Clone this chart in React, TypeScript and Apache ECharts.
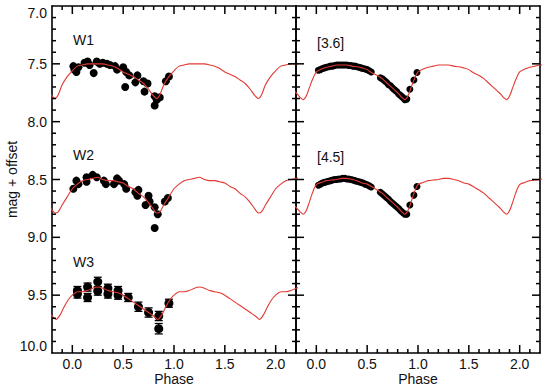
import React, { useEffect, useRef } from "react";
import * as echarts from "echarts";

// ---- ticks ----
const xMajorTicks = [0, 0.5, 1, 1.5, 2];
const xMinorTicks = [-0.1, 0.1, 0.2, 0.3, 0.4, 0.6, 0.7, 0.8, 0.9, 1.1, 1.2, 1.3, 1.4, 1.6, 1.7, 1.8, 1.9, 2.1];
const yMajorTicks = [7.5, 8.0, 8.5, 9.0, 9.5];
const yMinorTicks = [
  7.1, 7.2, 7.3, 7.4, 7.6, 7.7, 7.8, 7.9, 8.1, 8.2, 8.3, 8.4, 8.6, 8.7, 8.8, 8.9,
  9.1, 9.2, 9.3, 9.4, 9.6, 9.7, 9.8, 9.9,
];
const phaseCycles = [-1, 0, 1, 2];

// ---- model light curves, one period (phase, mag) ----
const w1Model: [number, number][] = [
  [0.0, 7.56], [0.05, 7.52], [0.1, 7.51], [0.15, 7.5], [0.2, 7.5], [0.25, 7.5], [0.3, 7.5],
  [0.35, 7.51], [0.4, 7.52], [0.45, 7.54], [0.5, 7.57], [0.55, 7.59], [0.6, 7.61], [0.65, 7.64],
  [0.7, 7.67], [0.75, 7.72], [0.8, 7.78], [0.83, 7.8], [0.86, 7.77], [0.9, 7.68], [0.95, 7.61],
];
const w2Model: [number, number][] = [
  [0.0, 8.58], [0.05, 8.54], [0.1, 8.51], [0.15, 8.5], [0.2, 8.49], [0.25, 8.48], [0.3, 8.5],
  [0.35, 8.51], [0.4, 8.51], [0.45, 8.52], [0.5, 8.53], [0.55, 8.56], [0.6, 8.58], [0.65, 8.62],
  [0.7, 8.65], [0.75, 8.7], [0.8, 8.76], [0.83, 8.79], [0.86, 8.78], [0.9, 8.72], [0.95, 8.65],
];
const w3Model: [number, number][] = [
  [0.0, 9.5], [0.05, 9.47], [0.1, 9.47], [0.15, 9.46], [0.2, 9.44], [0.25, 9.43], [0.3, 9.44],
  [0.35, 9.46], [0.4, 9.47], [0.45, 9.48], [0.5, 9.5], [0.55, 9.53], [0.6, 9.56], [0.65, 9.59],
  [0.7, 9.62], [0.75, 9.65], [0.8, 9.68], [0.84, 9.71], [0.88, 9.67], [0.92, 9.6], [0.96, 9.54],
];
const i1Model: [number, number][] = [
  [0.0, 7.57], [0.05, 7.545], [0.1, 7.53], [0.15, 7.52], [0.2, 7.51], [0.25, 7.51], [0.3, 7.51],
  [0.35, 7.52], [0.4, 7.525], [0.45, 7.535], [0.5, 7.55], [0.55, 7.58], [0.6, 7.6], [0.65, 7.63],
  [0.7, 7.67], [0.75, 7.71], [0.8, 7.75], [0.84, 7.79], [0.87, 7.81], [0.9, 7.78], [0.93, 7.71],
  [0.96, 7.64],
];
const i2Model: [number, number][] = [
  [0.0, 8.545], [0.05, 8.525], [0.1, 8.51], [0.15, 8.505], [0.2, 8.5], [0.25, 8.49], [0.3, 8.49],
  [0.35, 8.5], [0.4, 8.51], [0.45, 8.53], [0.5, 8.54], [0.55, 8.565], [0.6, 8.59], [0.65, 8.62],
  [0.7, 8.66], [0.75, 8.7], [0.8, 8.74], [0.84, 8.78], [0.87, 8.8], [0.9, 8.77], [0.93, 8.7],
  [0.96, 8.62],
];

// ---- observations ----
const w1Obs: [number, number][] = [
  [0.01, 7.52], [0.02, 7.55], [0.04, 7.57], [0.06, 7.53], [0.12, 7.49], [0.15, 7.48], [0.17, 7.51],
  [0.21, 7.58], [0.24, 7.48], [0.27, 7.5], [0.3, 7.49], [0.34, 7.5], [0.37, 7.51], [0.42, 7.52],
  [0.44, 7.55], [0.5, 7.53], [0.53, 7.57], [0.52, 7.7], [0.56, 7.6], [0.62, 7.66], [0.64, 7.6],
  [0.7, 7.65], [0.74, 7.67], [0.71, 7.74], [0.81, 7.78], [0.83, 7.81], [0.81, 7.86], [0.86, 7.79],
  [0.92, 7.65], [0.95, 7.61],
];
const w2Obs: [number, number][] = [
  [0.01, 8.58], [0.04, 8.51], [0.06, 8.54], [0.14, 8.48], [0.14, 8.52], [0.2, 8.46], [0.24, 8.48],
  [0.31, 8.51], [0.33, 8.54], [0.41, 8.54], [0.44, 8.49], [0.46, 8.51], [0.51, 8.54], [0.53, 8.58],
  [0.62, 8.61], [0.65, 8.59], [0.64, 8.64], [0.75, 8.64], [0.72, 8.72], [0.76, 8.69], [0.81, 8.74],
  [0.84, 8.8], [0.81, 8.92], [0.91, 8.69], [0.94, 8.66],
];
// phase, mag, error
const w3Obs: [number, number, number][] = [
  [0.05, 9.46, 0.035], [0.05, 9.49, 0.035], [0.15, 9.43, 0.035], [0.15, 9.52, 0.035],
  [0.25, 9.385, 0.04], [0.25, 9.465, 0.035], [0.35, 9.44, 0.035], [0.35, 9.49, 0.035],
  [0.45, 9.46, 0.035], [0.45, 9.5, 0.035], [0.55, 9.52, 0.035], [0.65, 9.6, 0.04],
  [0.75, 9.65, 0.04], [0.85, 9.68, 0.04], [0.85, 9.79, 0.045], [0.95, 9.57, 0.035],
];
const i1Obs: [number, number][] = [
  [0.02, 7.555], [0.04, 7.55], [0.06, 7.54], [0.08, 7.535], [0.1, 7.53], [0.12, 7.525], [0.14, 7.52],
  [0.16, 7.52], [0.18, 7.515], [0.2, 7.51], [0.22, 7.51], [0.24, 7.51], [0.26, 7.51], [0.28, 7.51],
  [0.3, 7.51], [0.32, 7.515], [0.34, 7.515], [0.36, 7.52], [0.38, 7.52], [0.4, 7.525], [0.42, 7.53],
  [0.44, 7.535], [0.46, 7.54], [0.48, 7.545], [0.5, 7.55], [0.52, 7.56], [0.54, 7.57],
  [0.63, 7.62], [0.65, 7.63], [0.67, 7.645], [0.69, 7.66], [0.71, 7.68], [0.73, 7.69], [0.75, 7.71],
  [0.77, 7.725], [0.79, 7.74], [0.81, 7.76], [0.83, 7.775], [0.85, 7.79], [0.87, 7.81], [0.89, 7.805],
  [0.92, 7.72], [0.96, 7.64], [0.99, 7.575],
];
const i2Obs: [number, number][] = [
  [0.02, 8.55], [0.04, 8.54], [0.06, 8.53], [0.08, 8.525], [0.1, 8.52], [0.12, 8.515], [0.14, 8.51],
  [0.16, 8.505], [0.18, 8.5], [0.2, 8.5], [0.22, 8.495], [0.24, 8.495], [0.26, 8.49], [0.28, 8.49],
  [0.3, 8.495], [0.32, 8.495], [0.34, 8.5], [0.36, 8.505], [0.38, 8.51], [0.4, 8.515], [0.42, 8.52],
  [0.44, 8.525], [0.46, 8.53], [0.48, 8.54], [0.5, 8.545], [0.52, 8.555], [0.54, 8.565],
  [0.63, 8.61], [0.65, 8.625], [0.67, 8.64], [0.69, 8.655], [0.71, 8.67], [0.73, 8.69], [0.75, 8.705],
  [0.77, 8.72], [0.79, 8.735], [0.81, 8.75], [0.83, 8.77], [0.85, 8.785], [0.87, 8.8], [0.89, 8.8],
  [0.92, 8.72], [0.96, 8.635], [0.99, 8.56],
];

const bandLabelsLeft = ["W1", "W2", "W3"];
const bandLabelsRight = ["[3.6]", "[4.5]"];

// ---- helpers ----
const X_MIN = -0.2;
const X_MAX = 2.2;
const Y_MIN = 7;
const Y_MAX = 10;

function foldCurve(model: [number, number][]): [number, number][] {
  const out: [number, number][] = [];
  for (const c of phaseCycles) {
    for (const [p, m] of model) {
      const x = +(p + c).toFixed(3);
      if (x >= -0.3 && x <= 2.3) out.push([x, m]);
    }
  }
  return out;
}

const FONT = "Liberation Sans, Arial, Helvetica, sans-serif";
const RED = "#e23a32";
const AXIS_W = 1.6;
const G = [
  { left: 52, top: 6, width: 244, height: 347 },
  { left: 296, top: 6, width: 244, height: 347 },
];
const MAJOR_LEN = 8;
const MINOR_LEN = 4;

// x ticks: [phase, magAtBottom, length]; y ticks: [phaseAtLeft, mag, length]
const xTickData: number[][] = [
  ...xMajorTicks.map((v) => [v, Y_MAX, MAJOR_LEN]),
  ...xMinorTicks.map((v) => [v, Y_MAX, MINOR_LEN]),
];
const yTickData: number[][] = [
  ...yMajorTicks.map((v) => [X_MIN, v, MAJOR_LEN]),
  ...yMinorTicks.map((v) => [X_MIN, v, MINOR_LEN]),
];

function xAxesFor(grid: number) {
  const base = {
    gridIndex: grid,
    type: "value",
    min: X_MIN,
    max: X_MAX,
    splitLine: { show: false },
    axisTick: { show: false },
  };
  return [
    {
      ...base,
      position: "bottom",
      axisLine: { show: true, onZero: false, lineStyle: { color: "#000", width: AXIS_W } },
      axisLabel: {
        show: true,
        customValues: xMajorTicks,
        formatter: (v: number) => v.toFixed(1),
        color: "#111",
        fontSize: 14,
        fontFamily: FONT,
        margin: 4,
      },
      name: "Phase",
      nameLocation: "middle",
      nameGap: 19,
      nameMoveOverlap: false,
      nameTextStyle: { color: "#111", fontSize: 14, fontFamily: FONT },
    },
    {
      ...base,
      position: "top",
      axisLine: { show: true, onZero: false, lineStyle: { color: "#000", width: AXIS_W } },
      axisLabel: { show: false },
    },
  ];
}

function yAxisFor(grid: number, position: string, labels: boolean) {
  return {
    gridIndex: grid,
    type: "value",
    position,
    min: Y_MIN,
    max: Y_MAX,
    interval: 0.5,
    inverse: true,
    splitLine: { show: false },
    axisLine: { show: true, onZero: false, lineStyle: { color: "#000", width: AXIS_W } },
    axisTick: { show: false },
    axisLabel: {
      show: labels,
      formatter: (v: number) => v.toFixed(1),
      color: "#111",
      fontSize: 14,
      fontFamily: FONT,
      margin: 5,
      verticalAlignMinLabel: "top",
      verticalAlignMaxLabel: "bottom",
    },
    name: labels ? "mag + offset" : "",
    nameLocation: "middle",
    nameGap: 33,
    nameRotate: 90,
    nameMoveOverlap: false,
    nameTextStyle: { color: "#111", fontSize: 14, fontFamily: FONT },
  };
}

const tickStyle = { stroke: "#000", lineWidth: 1.5 };

function xTickSeries(xi: number, yi: number) {
  return {
    type: "custom",
    xAxisIndex: xi,
    yAxisIndex: yi,
    data: xTickData,
    encode: { x: 0, y: 1 },
    z: 10,
    silent: true,
    renderItem: (params: any, api: any) => {
      const v = api.value(0);
      const len = api.value(2);
      const bot = api.coord([v, Y_MAX]);
      const top = api.coord([v, Y_MIN]);
      return {
        type: "group",
        children: [
          { type: "line", shape: { x1: bot[0], y1: bot[1], x2: bot[0], y2: bot[1] - len }, style: tickStyle },
          { type: "line", shape: { x1: top[0], y1: top[1], x2: top[0], y2: top[1] + len }, style: tickStyle },
        ],
      };
    },
  };
}

function yTickSeries(xi: number, yi: number) {
  return {
    type: "custom",
    xAxisIndex: xi,
    yAxisIndex: yi,
    data: yTickData,
    encode: { x: 0, y: 1 },
    z: 10,
    silent: true,
    renderItem: (params: any, api: any) => {
      const v = api.value(1);
      const len = api.value(2);
      const l = api.coord([X_MIN, v]);
      const r = api.coord([X_MAX, v]);
      return {
        type: "group",
        children: [
          { type: "line", shape: { x1: l[0], y1: l[1], x2: l[0] + len, y2: l[1] }, style: tickStyle },
          { type: "line", shape: { x1: r[0], y1: r[1], x2: r[0] - len, y2: r[1] }, style: tickStyle },
        ],
      };
    },
  };
}

function modelSeries(model: [number, number][], xi: number, yi: number) {
  return {
    type: "line",
    xAxisIndex: xi,
    yAxisIndex: yi,
    data: foldCurve(model),
    showSymbol: false,
    smooth: 0.3,
    clip: true,
    lineStyle: { color: RED, width: 1.1 },
    z: 5,
    silent: true,
  };
}

function dotSeries(obs: [number, number][], xi: number, yi: number, size: number) {
  return {
    type: "scatter",
    xAxisIndex: xi,
    yAxisIndex: yi,
    data: obs,
    symbol: "circle",
    symbolSize: size,
    itemStyle: { color: "#000", opacity: 1 },
    z: 3,
    silent: true,
  };
}

export default function App() {
  const ref = useRef<HTMLDivElement>(null);
  useEffect(() => {
    if (!ref.current) return;
    const chart = echarts.init(ref.current, undefined, { renderer: "svg" });
    const labelStyle = { fill: "#111", fontSize: 14, fontFamily: FONT, verticalAlign: "middle" };
    const option: any = {
      animation: false,
      backgroundColor: "#fff",
      grid: G.map((g) => ({ ...g, containLabel: false, outerBoundsMode: "none" })),
      xAxis: [...xAxesFor(0), ...xAxesFor(1)],
      yAxis: [
        yAxisFor(0, "left", true),
        yAxisFor(0, "right", false),
        yAxisFor(1, "left", false),
        yAxisFor(1, "right", false),
      ],
      series: [
        xTickSeries(0, 0),
        yTickSeries(0, 0),
        xTickSeries(2, 2),
        yTickSeries(2, 2),
        dotSeries(w1Obs, 0, 0, 8),
        dotSeries(w2Obs, 0, 0, 8),
        {
          type: "custom",
          xAxisIndex: 0,
          yAxisIndex: 0,
          data: w3Obs,
          encode: { x: 0, y: 1 },
          z: 3,
          silent: true,
          renderItem: (params: any, api: any) => {
            const x = api.value(0);
            const y = api.value(1);
            const e = api.value(2);
            const top = api.coord([x, y - e]);
            const bot = api.coord([x, y + e]);
            const cw = 4;
            const st = { stroke: "#000", lineWidth: 1.3 };
            return {
              type: "group",
              children: [
                { type: "line", shape: { x1: top[0], y1: top[1], x2: bot[0], y2: bot[1] }, style: st },
                { type: "line", shape: { x1: top[0] - cw, y1: top[1], x2: top[0] + cw, y2: top[1] }, style: st },
                { type: "line", shape: { x1: bot[0] - cw, y1: bot[1], x2: bot[0] + cw, y2: bot[1] }, style: st },
              ],
            };
          },
        },
        dotSeries(w3Obs.map((d) => [d[0], d[1]] as [number, number]), 0, 0, 9),
        modelSeries(w1Model, 0, 0),
        modelSeries(w2Model, 0, 0),
        modelSeries(w3Model, 0, 0),
        dotSeries(i1Obs, 2, 2, 7),
        dotSeries(i2Obs, 2, 2, 7),
        modelSeries(i1Model, 2, 2),
        modelSeries(i2Model, 2, 2),
      ],
      graphic: [
        { type: "text", left: 73, top: 33, style: { ...labelStyle, text: bandLabelsLeft[0] } },
        { type: "text", left: 73, top: 148, style: { ...labelStyle, text: bandLabelsLeft[1] } },
        { type: "text", left: 73, top: 255, style: { ...labelStyle, text: bandLabelsLeft[2] } },
        { type: "text", left: 317, top: 36, style: { ...labelStyle, text: bandLabelsRight[0] } },
        { type: "text", left: 317, top: 150, style: { ...labelStyle, text: bandLabelsRight[1] } },
      ],
    };
    chart.setOption(option);
    return () => chart.dispose();
  }, []);
  return (
    <div
      ref={ref}
      style={{ position: "absolute", left: 0, top: 0, width: 547, height: 388, background: "#fff" }}
    />
  );
}
